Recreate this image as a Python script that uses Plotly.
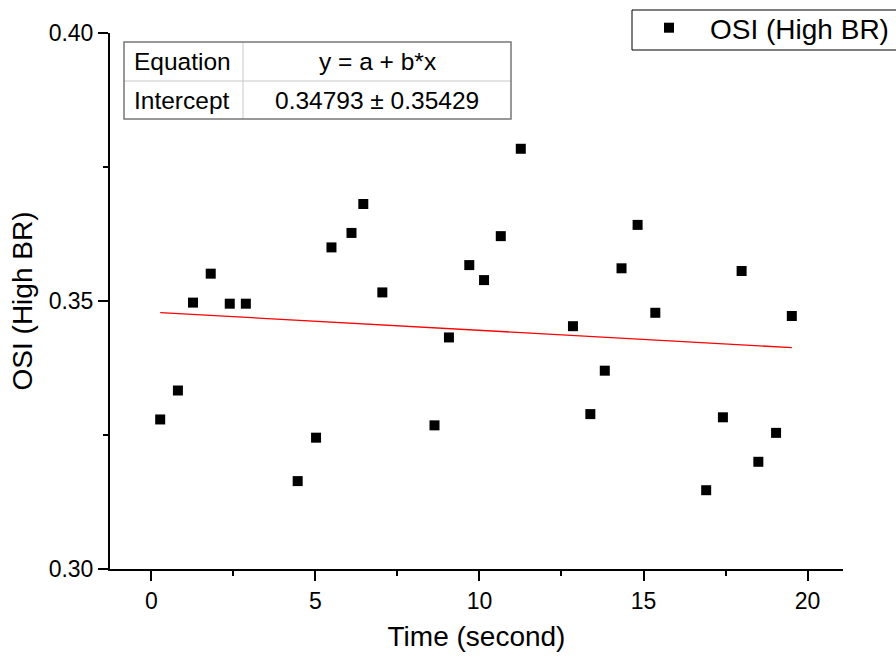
import plotly.graph_objects as go

# ---- data ----
time_s = [0.27, 0.81, 1.27, 1.81, 2.39, 2.88, 4.46, 5.02, 5.49, 6.10,
          6.46, 7.04, 8.63, 9.07, 9.69, 10.14, 10.65, 11.26, 12.85, 13.38,
          13.82, 14.33, 14.82, 15.36, 16.91, 17.42, 17.99, 18.50, 19.04, 19.52]
osi_high_br = [0.3279, 0.3333, 0.3497, 0.3551, 0.3495, 0.3495, 0.3164, 0.3245, 0.3600, 0.3627,
               0.3681, 0.3516, 0.3268, 0.3432, 0.3567, 0.3539, 0.3621, 0.3784, 0.3453, 0.3289,
               0.3370, 0.3561, 0.3642, 0.3478, 0.3147, 0.3283, 0.3556, 0.3200, 0.3254, 0.3472]
fit_intercept = 0.34793
fit_slope = -0.00034
table_rows = [["Equation", "y = a + b*x"],
              ["Intercept", "0.34793 \u00b1 0.35429"]]
x_ticks = [0, 5, 10, 15, 20]
y_ticks = [0.30, 0.35, 0.40]

FONT = "Arial, Liberation Sans, sans-serif"
W, H = 896, 658
L, R, T, B = 110, 53, 33, 89
PW, PH = W - L - R, H - T - B


def px(x):
    return (x - L) / PW


def py(y):
    return (H - B - y) / PH


fit_x = [min(time_s), max(time_s)]
fit_y = [fit_intercept + fit_slope * v for v in fit_x]

fig = go.Figure()
fig.add_trace(go.Scatter(x=time_s, y=osi_high_br, mode="markers", name="OSI (High BR)",
                         marker=dict(symbol="square", size=10, color="black",
                                     line=dict(width=0))))
fig.add_trace(go.Scatter(x=fit_x, y=fit_y, mode="lines", showlegend=False,
                         line=dict(color="red", width=1.3)))

# table
tx0, tx1, tmid = 124, 511, 243
ty0, tmidy, ty1 = 42, 81, 119
shapes = [
    dict(type="line", xref="paper", yref="paper", x0=px(tmid), x1=px(tmid), y0=py(ty0), y1=py(ty1),
         line=dict(color="#c8c8c8", width=1)),
    dict(type="line", xref="paper", yref="paper", x0=px(tx0), x1=px(tx1), y0=py(tmidy), y1=py(tmidy),
         line=dict(color="#c8c8c8", width=1)),
    dict(type="rect", xref="paper", yref="paper", x0=px(tx0), x1=px(tx1), y0=py(ty0), y1=py(ty1),
         line=dict(color="#777777", width=1.5)),
    # legend box
    dict(type="rect", xref="paper", yref="paper", x0=px(632), x1=px(905), y0=py(10), y1=py(50),
         line=dict(color="black", width=1)),
]
annotations = []
row_centers = [(ty0 + tmidy) / 2, (tmidy + ty1) / 2]
for (lab, val), yc in zip(table_rows, row_centers):
    annotations.append(dict(xref="paper", yref="paper", x=px(132), y=py(yc), text=lab,
                            showarrow=False, xanchor="left", yanchor="middle",
                            font=dict(family=FONT, size=24.5, color="black")))
    annotations.append(dict(xref="paper", yref="paper", x=px((tmid + tx1) / 2), y=py(yc), text=val,
                            showarrow=False, xanchor="center", yanchor="middle",
                            font=dict(family=FONT, size=24.5, color="black")))

fig.update_layout(
    width=W, height=H,
    margin=dict(l=L, r=R, t=T, b=B, autoexpand=False),
    paper_bgcolor="white", plot_bgcolor="white",
    font=dict(family=FONT, color="black"),
    shapes=shapes, annotations=annotations,
    legend=dict(x=px(628), y=py(3), xanchor="left", yanchor="top",
                bgcolor="rgba(0,0,0,0)", borderwidth=0, itemwidth=72,
                font=dict(family=FONT, size=28, color="black")),
    xaxis=dict(range=[-1.26, 21.08], tickvals=x_ticks, ticks="outside", ticklen=10, tickwidth=2,
               showline=True, linewidth=2, linecolor="black", showgrid=False, zeroline=False,
               tickfont=dict(family=FONT, size=23), tickcolor="black",
               minor=dict(dtick=2.5, tick0=0, ticks="outside", ticklen=5, tickwidth=2, tickcolor="black"),
               title=dict(text="Time (second)", font=dict(family=FONT, size=28), standoff=14)),
    yaxis=dict(range=[0.30, 0.40], tickvals=y_ticks, tickformat=".2f", ticks="outside", ticklen=10,
               tickwidth=2, showline=True, linewidth=2, linecolor="black", showgrid=False, zeroline=False,
               tickfont=dict(family=FONT, size=23), tickcolor="black",
               minor=dict(dtick=0.025, tick0=0.30, ticks="outside", ticklen=5, tickwidth=2, tickcolor="black"),
               title=dict(text="OSI (High BR)", font=dict(family=FONT, size=28), standoff=8)),
)

fig.write_html("out.html")
